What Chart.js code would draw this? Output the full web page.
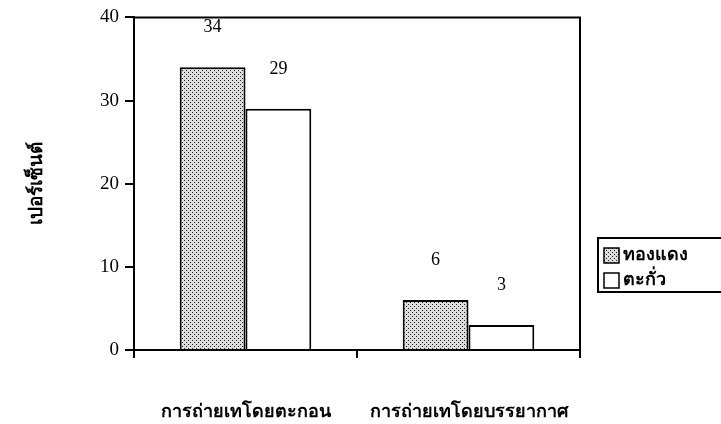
<!DOCTYPE html>
<html>
<head>
<meta charset="utf-8">
<script src="https://cdn.jsdelivr.net/npm/chart.js@4/dist/chart.umd.min.js"></script>
<style>
  html, body { margin: 0; padding: 0; background: #fff; }
  #wrap { width: 721px; height: 424px; position: relative; }
</style>
</head>
<body>
<div id="wrap"><canvas id="c" width="721" height="424"></canvas></div>
<script>
const categories = ['การถ่ายเทโดยตะกอน', 'การถ่ายเทโดยบรรยากาศ'];
const copperValues = [34, 6];
const leadValues = [29, 3];
const seriesNames = ['ทองแดง', 'ตะกั่ว'];
const yTicks = [0, 10, 20, 30, 40];
const yTitle = 'เปอร์เซ็นต์';

const SERIF = "'Liberation Serif', 'Times New Roman', serif";

// Stippled grey fill: scattered dark dots on a light background
function makeStipple() {
  const p = document.createElement('canvas');
  p.width = 4; p.height = 4;
  const g = p.getContext('2d');
  g.fillStyle = '#dcdcdc';
  g.fillRect(0, 0, 4, 4);
  g.fillStyle = '#222';
  g.fillRect(0, 0, 1, 1);
  g.fillRect(2, 2, 1, 1);
  return g.createPattern(p, 'repeat');
}
const stipple = makeStipple();

// Frame around the plot area (left, top, right)
const framePlugin = {
  id: 'frame',
  afterDraw(chart) {
    const { ctx, chartArea: a } = chart;
    ctx.save();
    ctx.strokeStyle = '#000';
    ctx.lineWidth = 2;
    ctx.beginPath();
    ctx.moveTo(a.left, a.bottom);
    ctx.lineTo(a.left, a.top);
    ctx.lineTo(a.right, a.top);
    ctx.lineTo(a.right, a.bottom + 8);
    ctx.stroke();
    ctx.restore();
  }
};

// Value labels above each bar
const valueLabels = {
  id: 'valueLabels',
  afterDatasetsDraw(chart) {
    const { ctx } = chart;
    ctx.save();
    ctx.fillStyle = '#000';
    ctx.font = '18px ' + SERIF;
    ctx.textAlign = 'center';
    ctx.textBaseline = 'middle';
    chart.data.datasets.forEach((ds, i) => {
      chart.getDatasetMeta(i).data.forEach((bar, j) => {
        ctx.fillText(String(ds.data[j]), bar.x, bar.y - 40);
      });
    });
    ctx.restore();
  }
};

// Boxed legend at the right of the plot
const boxLegend = {
  id: 'boxLegend',
  afterDraw(chart) {
    const { ctx } = chart;
    const x0 = 598, y0 = 238, w = 130, h = 54;
    ctx.save();
    ctx.strokeStyle = '#000';
    ctx.lineWidth = 2;
    ctx.strokeRect(x0, y0, w, h);
    ctx.font = 'bold 18px ' + SERIF;
    ctx.textBaseline = 'middle';
    ctx.textAlign = 'left';
    chart.data.datasets.forEach((ds, i) => {
      const cy = y0 + 17 + i * 25;
      ctx.fillStyle = ds.backgroundColor;
      ctx.fillRect(604, cy - 7, 15, 15);
      ctx.lineWidth = 1.5;
      ctx.strokeStyle = '#000';
      ctx.strokeRect(604, cy - 7, 15, 15);
      ctx.fillStyle = '#000';
      ctx.fillText(ds.label, 623, cy);
    });
    ctx.restore();
  }
};

new Chart(document.getElementById('c'), {
  type: 'bar',
  data: {
    labels: categories,
    datasets: [
      { label: seriesNames[0], data: copperValues, backgroundColor: stipple,
        borderColor: '#000', borderWidth: 2 },
      { label: seriesNames[1], data: leadValues, backgroundColor: '#fff',
        borderColor: '#000', borderWidth: 2 }
    ]
  },
  options: {
    responsive: false,
    animation: false,
    layout: { padding: { top: 13, left: 26, right: 141, bottom: 0 } },
    plugins: {
      legend: { display: false },
      tooltip: { enabled: false }
    },
    datasets: { bar: { categoryPercentage: 0.59, barPercentage: 1.0 } },
    scales: {
      x: {
        afterFit(s) { s.height = 74; },
        grid: { offset: true, drawOnChartArea: false, drawTicks: true,
                tickLength: 8, color: '#000', lineWidth: 2 },
        border: { display: true, color: '#000', width: 2 },
        ticks: { color: '#000', padding: 44,
                 font: { family: SERIF, size: 18, weight: 'bold' } }
      },
      y: {
        min: 0, max: 40,
        afterFit(s) { s.width = 108; },
        afterBuildTicks(s) { s.ticks = yTicks.map(v => ({ value: v })); },
        grid: { drawOnChartArea: false, drawTicks: true, tickLength: 9,
                color: '#000', lineWidth: 2 },
        border: { display: true, color: '#000', width: 2 },
        ticks: { color: '#000', padding: 6,
                 font: { family: SERIF, size: 19 } },
        title: { display: true, text: yTitle, color: '#000', padding: 0,
                 font: { family: SERIF, size: 19, weight: 'bold' } }
      }
    }
  },
  plugins: [framePlugin, valueLabels, boxLegend]
});
</script>
</body>
</html>
